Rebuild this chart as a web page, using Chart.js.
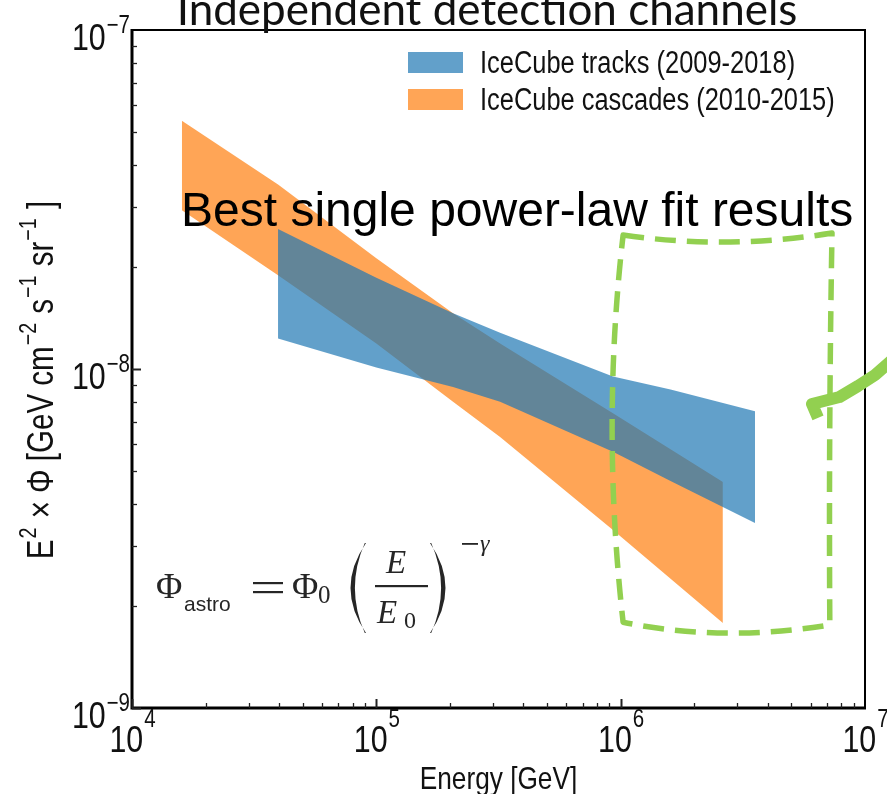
<!DOCTYPE html>
<html>
<head>
<meta charset="utf-8">
<script src="https://cdn.jsdelivr.net/npm/chart.js@4.4.1/dist/chart.umd.min.js"></script>
<style>
  html, body { margin: 0; padding: 0; background: #ffffff; }
  #wrap { width: 887px; height: 794px; position: relative; }
</style>
</head>
<body>
<div id="wrap"><canvas id="chart" width="887" height="794"></canvas></div>
<script>
// Neutrino energy (GeV) and the edges of the E^2 x Phi bands (GeV cm^-2 s^-1 sr^-1)
const trackEnergy   = [3.96e4, 1.0e5, 2.06e5, 3.21e5, 9.3e5, 1.6e6, 3.55e6];
const trackUpper    = [2.59e-8, 1.86e-8, 1.46e-8, 1.28e-8, 9.5e-9, 8.7e-9, 7.5e-9];
const trackLower    = [1.23e-8, 1.01e-8, 8.85e-9, 8.0e-9, 5.7e-9, 4.67e-9, 3.51e-9];

const cascadeEnergy = [1.6e4, 3.96e4, 1.0e5, 2.06e5, 3.21e5, 9.3e5, 2.62e6];
const cascadeUpper  = [5.4e-8, 3.5e-8, 2.12e-8, 1.46e-8, 1.19e-8, 7.4e-9, 4.64e-9];
const cascadeLower  = [2.94e-8, 1.89e-8, 1.19e-8, 8.0e-9, 6.3e-9, 3.35e-9, 1.78e-9];

const seriesLabels  = ['IceCube tracks (2009-2018)', 'IceCube cascades (2010-2015)'];
const xTickExponents = [4, 5, 6, 7];
const yTickExponents = [-9, -8, -7];

const chartTitle = 'Independent detection channels';
const fitNote    = 'Best single power-law fit results';
const xTitle     = 'Energy [GeV]';

const BLUE_FILL   = 'rgba(31,119,180,0.7)';
const ORANGE_FILL = 'rgba(255,127,14,0.7)';
const GREEN       = '#92D050';
const AXIS_FONT   = '"Liberation Sans",Arial,sans-serif';
const SQUEEZE     = 0.82;   // condensed look for the axis lettering

const toPoints = (xs, ys) => xs.map((x, i) => ({ x: x, y: ys[i] }));

function bandEdge(label, data, fill, color) {
  return {
    label: label,
    data: data,
    fill: fill,
    backgroundColor: color,
    borderColor: 'rgba(0,0,0,0)',
    borderWidth: 0,
    pointRadius: 0,
    tension: 0
  };
}

// condensed text helpers
function narrowWidth(ctx, text, size) {
  ctx.font = size + 'px ' + AXIS_FONT;
  return ctx.measureText(text).width * SQUEEZE;
}
function narrowText(ctx, text, x, y, size) {
  ctx.save();
  ctx.font = size + 'px ' + AXIS_FONT;
  ctx.textAlign = 'left';
  ctx.textBaseline = 'alphabetic';
  ctx.translate(x, y);
  ctx.scale(SQUEEZE, 1);
  ctx.fillText(text, 0, 0);
  ctx.restore();
}

// "base" with a raised exponent, e.g. 10^-8
function powerLabel(ctx, base, exp, x, y, baseSize, expSize, raise, align) {
  const wb = narrowWidth(ctx, base, baseSize);
  const we = narrowWidth(ctx, exp, expSize);
  let x0 = x;
  if (align === 'center') x0 = x - (wb + we) / 2;
  else if (align === 'right') x0 = x - wb - we;
  narrowText(ctx, base, x0, y, baseSize);
  narrowText(ctx, exp, x0 + wb + 1, y - raise, expSize);
}

function expText(n) {
  return n < 0 ? '\u2212' + Math.abs(n) : String(n);
}

// frame, inward ticks, tick labels and axis titles
const axesPlugin = {
  id: 'axesFrame',
  afterDatasetsDraw(chart) {
    const ctx = chart.ctx;
    const a = chart.chartArea;
    const xs = chart.scales.x, ys = chart.scales.y;
    ctx.save();
    ctx.strokeStyle = '#000';
    ctx.lineWidth = 2;
    ctx.beginPath();
    ctx.moveTo(a.left, a.top); ctx.lineTo(a.right, a.top); ctx.lineTo(a.right, a.bottom);
    ctx.stroke();
    ctx.lineWidth = 3;
    ctx.beginPath();
    ctx.moveTo(a.left, a.top - 1); ctx.lineTo(a.left, a.bottom); ctx.lineTo(a.right + 1, a.bottom);
    ctx.stroke();

    // ticks on bottom axis
    ctx.strokeStyle = '#222';
    for (let e = xTickExponents[0]; e < xTickExponents[xTickExponents.length - 1]; e++) {
      for (let m = 1; m <= 9; m++) {
        const v = m * Math.pow(10, e);
        const px = Math.round(xs.getPixelForValue(v)) + 0.5;
        const major = m === 1;
        ctx.lineWidth = major ? 2 : 1.3;
        ctx.beginPath();
        ctx.moveTo(px, a.bottom);
        ctx.lineTo(px, a.bottom - (major ? 9 : 5));
        ctx.stroke();
      }
    }
    // ticks on left axis
    for (let e = yTickExponents[0]; e < yTickExponents[yTickExponents.length - 1]; e++) {
      for (let m = 1; m <= 9; m++) {
        const v = m * Math.pow(10, e);
        const py = Math.round(ys.getPixelForValue(v)) + 0.5;
        const major = m === 1;
        ctx.lineWidth = major ? 2 : 1.3;
        ctx.beginPath();
        ctx.moveTo(a.left, py);
        ctx.lineTo(a.left + (major ? 9 : 5), py);
        ctx.stroke();
      }
    }

    ctx.fillStyle = '#111';
    xTickExponents.forEach(e => {
      const px = xs.getPixelForValue(Math.pow(10, e));
      powerLabel(ctx, '10', expText(e), px, a.bottom + 44, 37, 25, 25, 'center');
    });
    yTickExponents.forEach(e => {
      const py = ys.getPixelForValue(Math.pow(10, e));
      powerLabel(ctx, '10', expText(e), a.left - 3, py + 20, 37, 25, 17, 'right');
    });

    // x title
    const wx = narrowWidth(ctx, xTitle, 32);
    narrowText(ctx, xTitle, (a.left + a.right) / 2 - wx / 2, 789, 32);

    // y title, rotated, built from pieces with raised exponents
    const pieces = [
      ['E', false], ['2', true], [' \u00d7 \u03a6 [GeV cm', false], ['\u22122', true],
      [' s', false], ['\u22121', true], [' sr', false], ['\u22121', true], [' ]', false]
    ];
    const bSize = 36, sSize = 24;
    let total = 0;
    pieces.forEach(p => { total += narrowWidth(ctx, p[0], p[1] ? sSize : bSize) + (p[1] ? 2 : 0); });
    ctx.translate(53, 380);
    ctx.rotate(-Math.PI / 2);
    let cx = -total / 2;
    pieces.forEach(p => {
      narrowText(ctx, p[0], cx + (p[1] ? 1 : 0), p[1] ? -17 : 0, p[1] ? sSize : bSize);
      cx += narrowWidth(ctx, p[0], p[1] ? sSize : bSize) + (p[1] ? 2 : 0);
    });
    ctx.restore();
  }
};

// display-style parenthesis as a filled crescent
function bigParen(ctx, x, top, bottom, width, opening) {
  const mid = (top + bottom) / 2;
  const dir = opening ? 1 : -1;
  const outer = opening ? x : x + width;
  const tip = opening ? x + width : x;
  ctx.beginPath();
  ctx.moveTo(tip, top);
  ctx.quadraticCurveTo(outer - dir * 4, mid, tip, bottom);
  ctx.lineTo(tip - dir * 1.2, bottom);
  ctx.quadraticCurveTo(outer + dir * 6, mid, tip - dir * 1.2, top);
  ctx.closePath();
  ctx.fill();
}

// legend, formula, slide title, note text and green highlight
const overlayPlugin = {
  id: 'overlay',
  afterDraw(chart) {
    const ctx = chart.ctx;
    const xs = chart.scales.x, ys = chart.scales.y;
    const P = (lx, ly) => [xs.getPixelForValue(Math.pow(10, lx)), ys.getPixelForValue(Math.pow(10, ly))];
    ctx.save();

    // legend
    const legendFills = [BLUE_FILL, ORANGE_FILL];
    seriesLabels.forEach((lab, i) => {
      const y = 52 + i * 37;
      ctx.fillStyle = legendFills[i];
      ctx.fillRect(408, y, 55, 21);
      ctx.fillStyle = '#111';
      narrowText(ctx, lab, 480, y + 21, 31);
    });

    // Phi_astro = Phi_0 (E / E_0)^-gamma
    const serif = '"Liberation Serif","DejaVu Serif",serif';
    ctx.fillStyle = '#262626';
    ctx.textAlign = 'left';
    ctx.textBaseline = 'alphabetic';
    ctx.font = '36px ' + serif;
    ctx.fillText('\u03a6', 156, 598);
    ctx.font = '21px "Liberation Sans",Arial,sans-serif';
    ctx.fillText('astro', 184, 611);
    ctx.fillRect(253, 582, 30, 2.2);
    ctx.fillRect(253, 591, 30, 2.2);
    ctx.font = '36px ' + serif;
    ctx.fillText('\u03a6', 292, 598);
    ctx.font = '25px ' + serif;
    ctx.fillText('0', 318, 603);
    bigParen(ctx, 339, 543, 633, 27, true);
    bigParen(ctx, 430, 543, 633, 27, false);
    ctx.font = 'italic 33px ' + serif;
    ctx.fillText('E', 386, 573);
    ctx.fillText('E', 377, 623);
    ctx.font = '24px ' + serif;
    ctx.fillText('0', 404, 628);
    ctx.fillRect(375, 585, 53, 2.2);
    ctx.fillRect(462, 543, 16, 1.8);
    ctx.font = 'italic 24px ' + serif;
    ctx.fillText('\u03b3', 480, 551);

    // slide title (partly above the canvas)
    ctx.fillStyle = '#111';
    ctx.font = '44px Lato,"Open Sans",sans-serif';
    ctx.textAlign = 'center';
    ctx.fillText(chartTitle, 487, 25);

    // note over the plot
    ctx.fillStyle = '#000';
    ctx.font = '48px "Liberation Sans",Arial,sans-serif';
    ctx.textAlign = 'left';
    ctx.fillText(fitNote, 181, 226);

    // dashed highlight box (log10 E, log10 Phi)
    ctx.strokeStyle = GREEN;
    ctx.lineWidth = 5.5;
    ctx.lineJoin = 'round';
    ctx.setLineDash([21, 11]);
    const tl = P(6.01, -7.605), tr = P(6.865, -7.599), br = P(6.856, -8.755), bl = P(6.01, -8.747);
    const cTop = P(6.44, -7.649), cRight = P(6.851, -8.17), cBot = P(6.42, -8.807), cLeft = P(5.92, -8.17);
    ctx.beginPath();
    ctx.moveTo(tl[0], tl[1]);
    ctx.quadraticCurveTo(cTop[0], cTop[1], tr[0], tr[1]);
    ctx.quadraticCurveTo(cRight[0], cRight[1], br[0], br[1]);
    ctx.quadraticCurveTo(cBot[0], cBot[1], bl[0], bl[1]);
    ctx.quadraticCurveTo(cLeft[0], cLeft[1], tl[0], tl[1]);
    ctx.closePath();
    ctx.stroke();

    // pointer stroke from the right
    ctx.setLineDash([]);
    ctx.lineWidth = 12;
    ctx.lineCap = 'butt';
    const s = [P(6.8077, -8.1445), P(6.7831, -8.1032), P(6.8958, -8.0826), P(6.9714, -8.0501), P(7.0409, -8.0177), P(7.1105, -7.9735)];
    ctx.beginPath();
    ctx.moveTo(s[0][0], s[0][1]);
    for (let i = 1; i < s.length; i++) ctx.lineTo(s[i][0], s[i][1]);
    ctx.stroke();
    ctx.restore();
  }
};

new Chart(document.getElementById('chart'), {
  type: 'line',
  data: {
    datasets: [
      bandEdge(seriesLabels[0], toPoints(trackEnergy, trackUpper), '+1', BLUE_FILL),
      bandEdge(seriesLabels[0] + ' lower', toPoints(trackEnergy, trackLower), false, BLUE_FILL),
      bandEdge(seriesLabels[1], toPoints(cascadeEnergy, cascadeUpper), '+1', ORANGE_FILL),
      bandEdge(seriesLabels[1] + ' lower', toPoints(cascadeEnergy, cascadeLower), false, ORANGE_FILL)
    ]
  },
  options: {
    responsive: false,
    animation: false,
    events: [],
    layout: { padding: { left: 132, right: 22, top: 30, bottom: 86 } },
    plugins: { legend: { display: false }, tooltip: { enabled: false }, title: { display: false } },
    scales: {
      x: { type: 'logarithmic', min: 1e4, max: 1e7, display: false },
      y: { type: 'logarithmic', min: 1e-9, max: 1e-7, display: false }
    }
  },
  plugins: [axesPlugin, overlayPlugin]
});
</script>
</body>
</html>
